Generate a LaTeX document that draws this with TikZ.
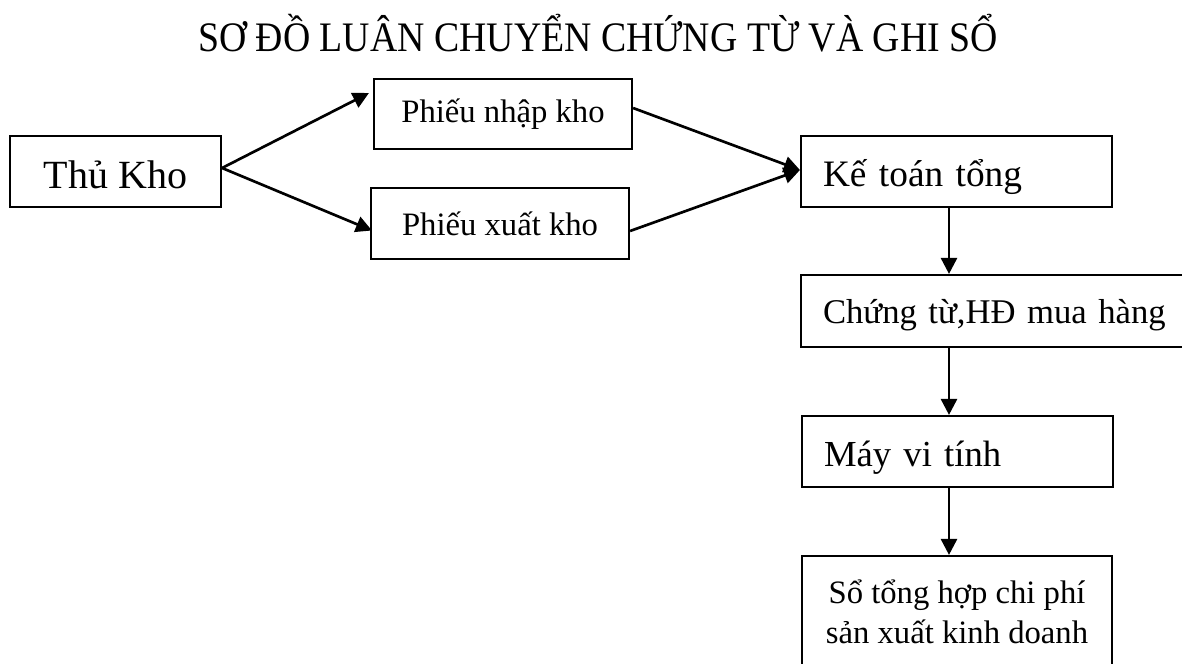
\documentclass[tikz,border=0pt]{standalone}
\usepackage{fontspec}
\setmainfont{Liberation Serif}
\newfontfamily\titlefont[FakeStretch=0.9]{Liberation Serif}
\usetikzlibrary{arrows.meta,calc}
\tikzset{
  box/.style={draw, line width=1.6pt, inner sep=0pt},
  lbox/.style={box, align=left, inner xsep=16.5pt, text depth=0pt},
  arr/.style={line width=2pt, -{Triangle[length=12pt,width=12pt]}},
}
\begin{document}
\begin{tikzpicture}[x=0.75pt, y=-0.75pt]
  \useasboundingbox (0,0) rectangle (1182,664);
  \clip (0,0) rectangle (1182,664);

  % heading
  \node[anchor=base, font=\titlefont\fontsize{31.5}{36}\selectfont] (title) at (598,51)
    {SƠ ĐỒ LUÂN CHUYỂN CHỨNG TỪ VÀ GHI SỔ};

  % boxes
  \node[box, minimum width=158.25pt, minimum height=53.25pt, text depth=0pt, text height=26pt,
        font=\fontsize{30}{36}\selectfont] (thu) at (115.5,171.5) {Thủ Kho};
  \node[box, minimum width=193.5pt, minimum height=52.5pt,
        font=\fontsize{24.5}{30}\selectfont] (nhap) at (503,114) {Phiếu nhập kho};
  \node[box, minimum width=193.5pt, minimum height=53.25pt,
        font=\fontsize{24.5}{30}\selectfont] (xuat) at (500,223.5) {Phiếu xuất kho};
  \node[lbox, text width=200.25pt, minimum height=53.25pt, text height=23.2pt,
        font=\fontsize{28}{34}\selectfont] (ketoan) at (956.5,171.5) {Kế toán tổng};
  \node[lbox, text width=266.25pt, minimum height=54pt, text height=18.5pt,
        font=\fontsize{26}{32}\selectfont] (chungtu) at (1000.5,311) {Chứng từ,HĐ mua hàng};
  \node[lbox, text width=200.25pt, minimum height=53.25pt, text height=23.2pt,
        font=\fontsize{27.5}{33}\selectfont] (may) at (957.5,451.5) {Máy vi tính};
  \node[box, minimum width=232.5pt, minimum height=84pt, align=center,
        font=\fontsize{24.5}{30}\selectfont] (so) at (957,612)
    {Sổ tổng hợp chi phí\\sản xuất kinh doanh};

  % connectors
  \coordinate (axis) at (949,0);
  \draw[arr] ($(thu.east)+(0,-3.5)$) -- ($(nhap.west)+(-4,-21)$);
  \draw[arr] ($(thu.east)+(0,-3.5)$) -- ($(xuat.west)+(2,7)$);
  \draw[arr] ($(nhap.east)+(0,-6)$) -- ($(ketoan.west)+(0,-1.5)$);
  \draw[arr] ($(xuat.east)+(0,7.5)$) -- ($(ketoan.west)+(0,-1.5)$);
  \draw[arr] (ketoan.south -| axis) -- (chungtu.north -| axis);
  \draw[arr] (chungtu.south -| axis) -- (may.north -| axis);
  \draw[arr] (may.south -| axis) -- (so.north -| axis);
\end{tikzpicture}
\end{document}
